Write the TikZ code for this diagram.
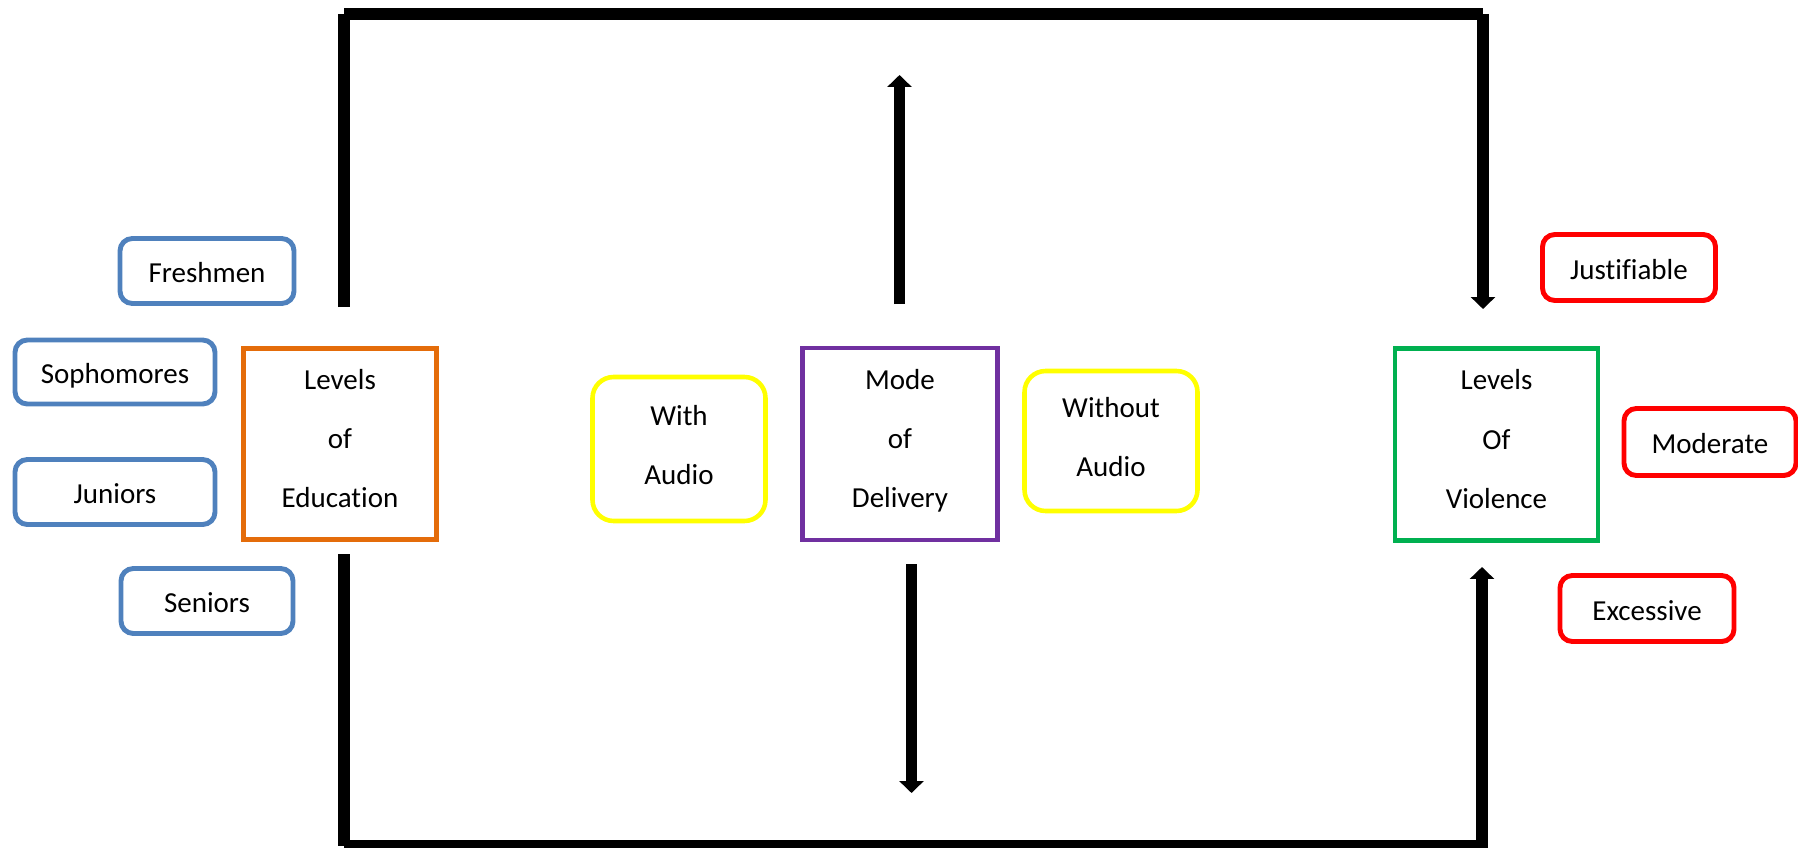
\documentclass[tikz,border=0pt]{standalone}
\usepackage{fontspec}
\setmainfont{Carlito}[Ligatures=NoCommon]
\usetikzlibrary{arrows.meta}
\definecolor{cblue}{HTML}{4F81BD}
\definecolor{corange}{HTML}{E46C0A}
\definecolor{cpurple}{HTML}{7030A0}
\definecolor{cyellow}{HTML}{FFFF00}
\definecolor{cgreen}{HTML}{00B050}
\definecolor{cred}{HTML}{FF0000}
\begin{document}
\begin{tikzpicture}[x=0.02cm,y=-0.02cm,
  every node/.style={font=\fontsize{16.5}{33.7}\selectfont, align=center, inner sep=0pt},
  sz/.style 2 args={minimum width=#1*0.02cm, minimum height=#2*0.02cm},
  pill/.style={draw=#1, line width=2.8pt, rounded corners=7pt, text height=15pt, text depth=1.8pt},
  soft/.style={draw=cyellow, line width=2.6pt, rounded corners=12pt, text height=40.2pt, text depth=0pt},
  sqbox/.style={draw=#1, line width=2.3pt, text height=72.6pt, text depth=0pt},
  bar/.style={line width=6.5pt, line cap=butt},
  arr/.style={bar, -{Triangle[width=13.6pt, length=6.8pt]}}
]
\useasboundingbox (0,0) rectangle (1798,848);

% left group
\node[pill=cblue, sz={174}{65}] (fresh) at (207,271) {Freshmen};
\node[pill=cblue, sz={200}{64}] (soph) at (115,372) {Sophomores};
\node[pill=cblue, sz={200}{65}] (jun) at (115,492) {Juniors};
\node[pill=cblue, sz={172}{65}] (sen) at (207,601) {Seniors};
\node[sqbox=corange, sz={193}{191}] (edu) at (340,444) {Levels\\of\\Education};

% middle group
\node[soft, sz={173}{144}] (with) at (679,449) {With\\Audio};
\node[sqbox=cpurple, sz={195}{192}] (mode) at (900,444) {Mode\\of\\Delivery};
\node[soft, sz={173}{140}] (without) at (1111,441) {Without\\Audio};

% right group
\node[sqbox=cgreen, sz={203}{192}] (viol) at (1496.5,444.5) {Levels\\Of\\Violence};
\node[pill=cred, sz={173}{66}] (just) at (1629,267.5) {Justifiable};
\node[pill=cred, sz={172}{67}] (mod) at (1710,442) {Moderate};
\node[pill=cred, sz={174}{66}] (exc) at (1647,608.5) {Excessive};

% frame coordinates
\coordinate (TL) at (344,14);
\coordinate (TR) at (1483,14);
\coordinate (BL) at (344,845.5);
\coordinate (BR) at (1483,845.5);
\coordinate (BRend) at (1482,848);
\coordinate (eduUp) at (344,307);
\coordinate (eduDn) at (344,554);
\coordinate (violUpTip) at (1483,309);
\coordinate (violDnTip) at (1482,567);
\coordinate (modeUpS) at (899.5,304);
\coordinate (modeUpT) at (899.5,75);
\coordinate (modeDnS) at (911.5,564);
\coordinate (modeDnT) at (911.5,793);

% frame
\draw[bar] (eduUp) -- (TL);
\draw[bar] (TL) -- (TR);
\draw[arr] (TR) -- (violUpTip);
\draw[bar] (eduDn) -- (BL);
\draw[bar] (BL) -- (BR);
\draw[arr] (BRend) -- (violDnTip);

% middle arrows
\draw[arr] (modeUpS) -- (modeUpT);
\draw[arr] (modeDnS) -- (modeDnT);
\end{tikzpicture}
\end{document}
